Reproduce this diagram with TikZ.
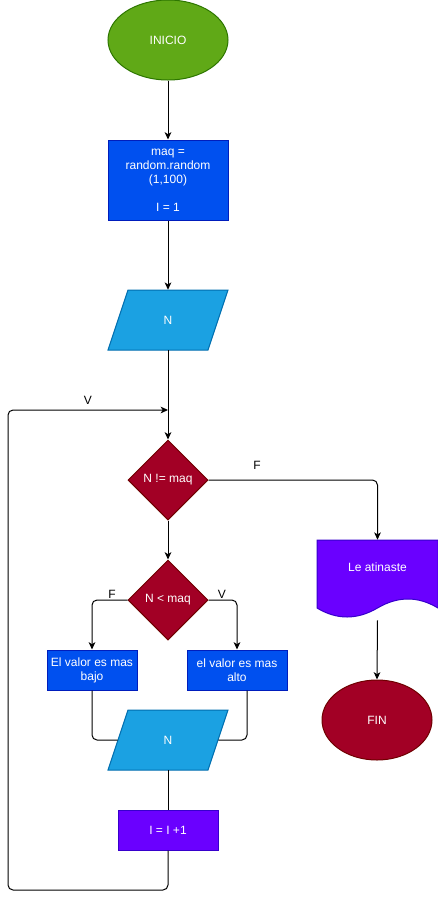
\documentclass[tikz,border=0pt]{standalone}
\usepackage{fontspec}
\setmainfont{Liberation Sans}
\usetikzlibrary{shapes.geometric,arrows.meta}
\definecolor{gfill}{HTML}{60A917}\definecolor{gline}{HTML}{2D7600}
\definecolor{bfill}{HTML}{0050EF}\definecolor{bline}{HTML}{001DBC}
\definecolor{lbfill}{HTML}{1BA1E2}\definecolor{lbline}{HTML}{006EAF}
\definecolor{rfill}{HTML}{A20025}\definecolor{rline}{HTML}{6F0000}
\definecolor{vfill}{HTML}{6A00FF}\definecolor{vline}{HTML}{3700CC}
\begin{document}
\begin{tikzpicture}[x=0.75pt,y=-0.75pt,
  every node/.style={font=\fontsize{9}{10.5}\selectfont, text=white, align=center, inner sep=0pt},
  term/.style={ellipse, draw=#1, line width=0.75pt, minimum height=60pt},
  procbox/.style={rectangle, draw=bline, fill=bfill, line width=0.75pt},
  decision/.style={diamond, draw=rline, fill=rfill, line width=0.75pt, minimum width=60pt, minimum height=60pt, aspect=1},
  ghost/.style={rectangle, minimum width=#1, minimum height=45pt},
  conn/.style={line width=0.75pt, rounded corners=3.75pt},
  arr/.style={conn, -{Stealth[length=5.5pt,width=5pt,inset=1.5pt]}},
  lbl/.style={text=black}
]
\useasboundingbox (0,0) rectangle (438,901);

\node[term=gline, fill=gfill, minimum width=90pt] (start) at (168,40) {INICIO};
\node[procbox, minimum width=90pt, minimum height=60pt] (init) at (168,180) {maq =\\random.random\\(1,100)\\[10.5pt]I = 1};

% parallelogram N (input)
\filldraw[fill=lbfill, draw=lbline, line width=0.75pt] (128,290) -- (228,290) -- (208,350) -- (108,350) -- cycle;
\node[ghost=75pt] (n1) at (168,320) {N};

\node[decision] (d1) at (168,480) {N != maq};
\node[decision] (d2) at (168,600) {N < maq};

\node[procbox, minimum width=67.5pt, minimum height=30pt] (low) at (92,670) {El valor es mas\\bajo};
\node[procbox, minimum width=75pt, minimum height=30pt] (high) at (237,670) {el valor es mas\\alto};

% parallelogram N (second)
\filldraw[fill=lbfill, draw=lbline, line width=0.75pt] (128,710) -- (228,710) -- (208,770) -- (108,770) -- cycle;
\node[ghost=75pt] (n2) at (168,740) {N};

\node[rectangle, draw=vline, fill=vfill, line width=0.75pt, minimum width=75pt, minimum height=30pt] (inc) at (168,830) {I = I +1};

% document shape
\filldraw[fill=vfill, draw=vline, line width=0.75pt] (317,540) -- (438,540) -- (438,608)
  .. controls (418,596) and (398,596) .. (377.5,608)
  .. controls (357,620) and (337,620) .. (317,608) -- cycle;
\node[rectangle, minimum width=90.75pt, minimum height=60pt] (doc) at (377.5,580) {};
\node (doctext) at (377.5,567) {Le atinaste};

\node[term=rline, fill=rfill, minimum width=82.5pt] (fin) at (377,720) {FIN};

\coordinate (join) at (168,410);

% connectors
\draw[arr] (start.south) -- (init.north);
\draw[arr] (init.south) -- (n1.north);
\draw[arr] (n1.south) -- (d1.north);
\draw[arr] (inc.south) -- (168,890) -- (8,890) -- (8,410) -- (join);
\draw[arr] (d1.east) -| (doc.north);
\draw[arr] (d1.south) -- (d2.north);
\draw[arr] (d2.west) -| (low.north);
\draw[arr] (d2.east) -| (high.north);
\draw[conn] (low.south) |- (n2.west);
\draw[conn] ([xshift=7.5pt]high.south) |- (n2.east);
\draw[conn] (n2.south) -- (inc.north);
\draw[arr] (doc.south) -- (fin.north);

% labels
\node[lbl] (lv1) at (88,400) {V};
\node[lbl] (lf1) at (257,465) {F};
\node[lbl] (lf2) at (112,594) {F};
\node[lbl] (lv2) at (222,594) {V};
\end{tikzpicture}
\end{document}
